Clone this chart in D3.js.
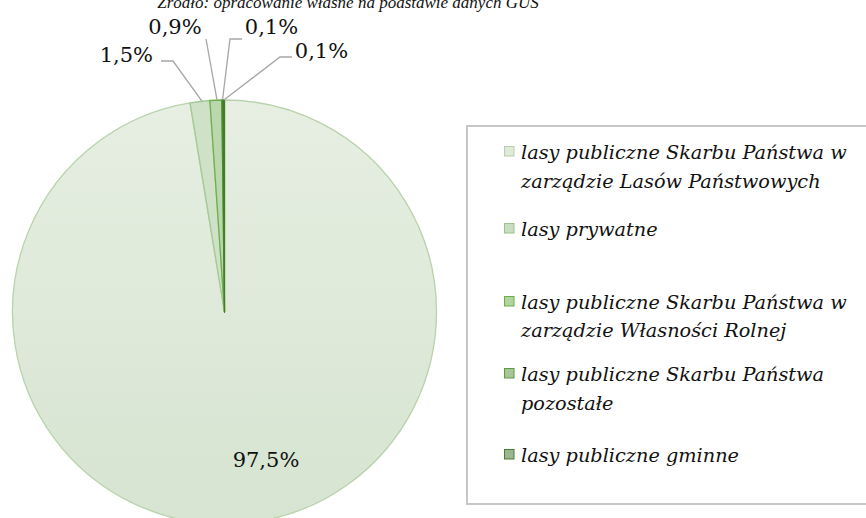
<!DOCTYPE html>
<html>
<head>
<meta charset="utf-8">
<script src="https://cdn.jsdelivr.net/npm/d3@7/dist/d3.min.js"></script>
<style>
  html, body { margin: 0; padding: 0; background: #fff; }
  svg { display: block; }
</style>
</head>
<body>
<svg id="chart" width="866" height="518"></svg>
<script>
// Forest ownership structure (share of area, %)
const categories = [
  "lasy publiczne Skarbu Państwa w|zarządzie Lasów Państwowych",
  "lasy prywatne",
  "lasy publiczne Skarbu Państwa w|zarządzie Własności Rolnej",
  "lasy publiczne Skarbu Państwa|pozostałe",
  "lasy publiczne gminne"
];
const shares = [97.5, 1.5, 0.9, 0.1, 0.1];
const sourceNote = "Źródło: opracowanie własne na podstawie danych GUS";

const sliceFill   = ["url(#gradMain)", "#cfe1c7", "#bad7ad", "#5d9c3d", "#4c8a2d"];
const sliceStroke = ["#b8d3ab", "#a4c995", "#6cb04b", "#4f8f30", "#437d27"];
const swatchFill  = ["#dfeadb", "#c9ddc0", "#b2d4a3", "#a7c79a", "#9bb691"];
const swatchStroke= ["#b7cfac", "#9cc28b", "#6aad45", "#5f9a40", "#4d7c39"];

const svg = d3.select("#chart");
const defs = svg.append("defs");
const g0 = defs.append("linearGradient").attr("id", "gradMain")
  .attr("x1", 0).attr("y1", 0).attr("x2", 0).attr("y2", 1);
g0.append("stop").attr("offset", "0%").attr("stop-color", "#e6efe2");
g0.append("stop").attr("offset", "100%").attr("stop-color", "#d7e4d1");

const fmt = v => d3.format(".1f")(v).replace(".", ",") + "%";

// source note, partly above the top edge
svg.append("text")
  .attr("x", 348).attr("y", 8)
  .attr("text-anchor", "middle")
  .style("font-family", "'Liberation Serif', serif")
  .style("font-style", "italic")
  .style("font-size", "17px")
  .attr("fill", "#111")
  .text(sourceNote);

// pie
const cx = 224.5, cy = 312, r = 212;
const pie = d3.pie().sort(null).value(d => d)(shares);
const arc = d3.arc().innerRadius(0).outerRadius(r);
const pg = svg.append("g").attr("transform", `translate(${cx},${cy})`);
pg.selectAll("path").data(pie).join("path")
  .attr("d", arc)
  .attr("fill", (d, i) => sliceFill[i])
  .attr("stroke", (d, i) => sliceStroke[i])
  .attr("stroke-width", 1.3)
  .attr("stroke-linejoin", "round");

// value labels
const labelFont = "'DejaVu Serif', serif";
const labelPos = [
  {x: 266, y: 467, anchor: "middle", line: null},
  {x: 153, y: 62, anchor: "end", line: [[161, 61], [173, 61]]},
  {x: 175, y: 34, anchor: "middle", line: [[206, 39]]},
  {x: 271.5, y: 34, anchor: "middle", line: [[242, 39], [230, 39]]},
  {x: 321.5, y: 58, anchor: "middle", line: [[292, 57], [280, 57]]}
];
const leaderAt = [null, 0.6, 0.6, 0.5, 0.5];

pie.forEach((d, i) => {
  const p = labelPos[i];
  if (p.line) {
    // leader line ends on the slice edge
    const a = d.startAngle + (d.endAngle - d.startAngle) * leaderAt[i];
    const ex = cx + r * Math.sin(a), ey = cy - r * Math.cos(a);
    const pts = p.line.concat([[ex, ey]]);
    svg.append("path")
      .attr("d", d3.line()(pts))
      .attr("fill", "none")
      .attr("stroke", "#a6a6a6")
      .attr("stroke-width", 1.3);
  }
  svg.append("text")
    .attr("x", p.x).attr("y", p.y)
    .attr("text-anchor", p.anchor)
    .style("font-family", labelFont)
    .style("font-size", "21px")
    .attr("fill", "#111")
    .text(fmt(d.data));
});

// legend
svg.append("rect")
  .attr("x", 467).attr("y", 126)
  .attr("width", 400).attr("height", 378)
  .attr("fill", "#fff")
  .attr("stroke", "#c6c6c6")
  .attr("stroke-width", 2);

const baselines = [[159, 188], [236], [309, 337], [381, 410], [462]];
const lg = svg.append("g");
categories.forEach((c, i) => {
  const lines = c.split("|");
  const b0 = baselines[i][0];
  lg.append("rect")
    .attr("x", 504.5).attr("y", b0 - 12.5)
    .attr("width", 9.5).attr("height", 9.5)
    .attr("fill", swatchFill[i])
    .attr("stroke", swatchStroke[i])
    .attr("stroke-width", 1);
  const t = lg.append("text")
    .style("font-family", "'DejaVu Serif', serif")
    .style("font-style", "italic")
    .style("font-size", "19.3px")
    .attr("fill", "#111");
  lines.forEach((ln, k) => {
    t.append("tspan").attr("x", 521).attr("y", baselines[i][k]).text(ln);
  });
});
</script>
</body>
</html>
